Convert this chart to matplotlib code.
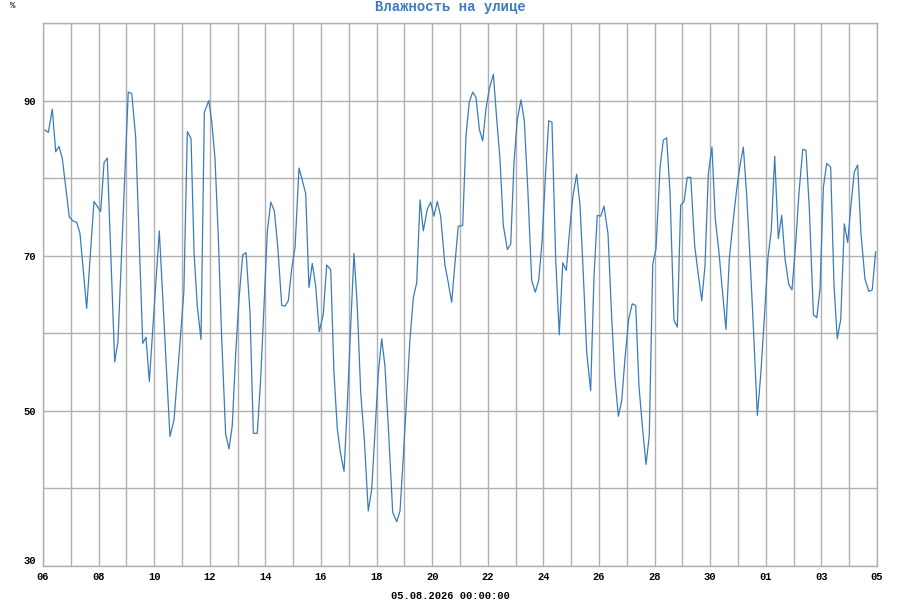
import matplotlib
matplotlib.use('Agg')
import matplotlib.pyplot as plt

# hours since 06.07 00:00 and humidity (%)
hours = [1.7, 4.6, 8.0, 11.0, 13.8, 16.7, 22.7, 25.6, 29.1, 31.9, 37.7, 44.0,
         49.8, 52.7, 55.5, 61.9, 64.7, 73.6, 76.6, 80.0, 86.1, 88.9, 91.8, 100.4,
         109.6, 113.1, 121.6, 124.6, 127.8, 130.4, 133.2, 136.4, 139.3, 143.1,
         145.6, 148.5, 151.3, 154.3, 157.7, 160.6, 163.4, 166.4, 169.2, 172.4,
         175.3, 178.7, 181.6, 185.0, 187.9, 190.8, 193.6, 196.6, 199.7, 202.6,
         206.1, 208.9, 211.8, 214.7, 217.6, 221.0, 223.9, 226.8, 229.6, 232.5,
         235.4, 238.5, 242.0, 244.9, 248.4, 251.2, 254.1, 257.0, 259.9, 262.7,
         265.6, 268.5, 271.3, 274.3, 277.4, 280.8, 283.8, 286.6, 289.5, 292.4,
         295.2, 298.7, 301.9, 305.4, 308.2, 311.1, 314.0, 316.8, 319.7, 322.6,
         325.5, 328.3, 331.8, 334.7, 337.5, 340.4, 343.3, 347.0, 349.9, 352.8,
         355.7, 358.5, 362.3, 365.2, 368.0, 371.0, 373.8, 376.7, 379.6, 382.4,
         385.3, 388.8, 391.7, 394.5, 397.4, 400.9, 403.8, 406.6, 409.5, 412.7,
         415.5, 418.4, 421.9, 425.0, 427.9, 430.8, 433.6, 436.6, 439.4, 442.6,
         445.7, 448.7, 451.8, 454.7, 457.5, 460.7, 463.6, 466.4, 469.4, 472.8,
         475.7, 478.5, 481.5, 484.3, 487.8, 490.6, 493.6, 496.7, 499.6, 502.4,
         505.6, 508.7, 511.7, 514.5, 517.7, 520.6, 523.4, 526.4, 529.2, 532.7,
         535.5, 538.4, 541.3, 544.7, 547.6, 550.5, 553.4, 556.2, 559.2, 562.6,
         565.7, 568.7, 571.5, 574.4, 577.5, 580.4, 583.6, 586.4, 589.6, 592.5,
         595.4, 598.9, 601.7, 604.6, 607.5, 610.4, 613.2, 616.7, 619.6, 622.5,
         625.9, 628.7, 631.7, 634.8, 637.7, 640.6, 643.8, 646.6, 649.5, 652.7,
         655.9, 658.7, 661.6, 665.1, 668.0, 670.8, 673.7, 676.6, 680.0, 682.9,
         685.7, 688.7, 691.8, 694.7, 697.5, 700.4, 703.3, 706.1, 709.6, 713.0,
         715.9, 718.8]
humidity = [86.2, 85.9, 88.9, 83.4, 84.1, 82.5, 75.0, 74.5, 74.3, 72.9, 63.2, 77.0,
            75.7, 82.0, 82.6, 56.3, 58.9, 91.1, 90.9, 85.3, 58.7, 59.5, 53.8, 73.2,
            46.7, 48.8, 65.3, 86.0, 85.1, 70.4, 63.5, 59.2, 88.5, 90.0,
            87.4, 82.5, 72.6, 59.2, 47.0, 45.1, 48.1, 57.5, 64.4, 70.1,
            70.4, 62.7, 47.1, 47.1, 54.1, 63.5, 73.0, 76.9, 75.8, 71.3,
            63.6, 63.5, 64.2, 68.3, 71.1, 81.3, 79.7, 78.0, 65.9, 69.0,
            66.1, 60.2, 62.5, 68.8, 68.2, 54.9, 47.6, 44.4, 42.2, 50.6,
            60.9, 70.3, 63.5, 52.3, 46.3, 37.1, 39.9, 47.2, 54.9, 59.3,
            55.8, 46.3, 36.9, 35.7, 37.1, 44.2, 51.9, 59.2, 64.6, 66.5,
            77.2, 73.2, 76.0, 76.9, 75.1, 77.0, 75.1, 68.8, 66.5, 64.0,
            69.1, 73.8, 73.9, 85.5, 89.8, 91.1, 90.4, 86.3, 84.8, 88.9,
            91.5, 93.4, 87.6, 82.5, 73.9, 70.8, 71.5, 82.0, 87.6, 90.1,
            87.4, 79.0, 66.8, 65.3, 66.8, 71.7, 79.9, 87.4, 87.2, 69.6,
            59.8, 69.1, 68.1, 73.4, 77.7, 80.5, 76.5, 67.8, 57.5, 52.6,
            67.4, 75.2, 75.1, 76.4, 72.8, 63.1, 54.5, 49.3, 51.3, 56.7,
            61.8, 63.8, 63.6, 53.2, 47.6, 43.1, 46.8, 68.9, 70.9, 81.4,
            84.9, 85.2, 78.2, 61.7, 60.8, 76.5, 77.0, 80.1, 80.1, 71.3,
            67.6, 64.2, 68.7, 80.6, 84.0, 74.7, 70.4, 65.7, 60.5, 69.6,
            73.9, 78.6, 81.6, 84.0, 77.8, 69.6, 61.0, 49.4, 54.6, 61.4,
            69.8, 73.2, 82.8, 72.2, 75.2, 69.6, 66.3, 65.6, 70.9, 78.2,
            83.7, 83.6, 76.0, 62.4, 62.0, 65.7, 78.8, 81.9, 81.4, 66.1,
            59.3, 61.8, 74.1, 71.7, 76.5, 80.8, 81.7, 73.0, 67.0, 65.4,
            65.6, 70.5]

day_labels = ['06', '08', '10', '12', '14', '16', '18', '20', '22', '24',
              '26', '28', '30', '01', '03', '05']
y_labels = [30, 50, 70, 90]
title = 'Влажность на улице'
stamp = '05.08.2026 00:00:00'

mono = 'Liberation Mono'
grid_col = '#b0b0b0'

fig = plt.figure(figsize=(9, 6), dpi=100)
ax = fig.add_axes([43 / 900, 1 - 566 / 600, 834 / 900, 543 / 600])

ax.plot(hours, humidity, color='#3a7cbd', lw=0.9)

ax.set_xlim(0, 720)
ax.set_ylim(30, 100)
ax.set_xticks([48 * i for i in range(len(day_labels))])
ax.set_xticklabels(day_labels)
ax.set_xticks([24 + 48 * i for i in range(15)], minor=True)
ax.set_yticks(y_labels)
ax.set_yticks([40, 60, 80, 100], minor=True)

ax.grid(True, which='both', color=grid_col, lw=1.0)
ax.set_axisbelow(True)
ax.tick_params(which='both', length=0)
ax.tick_params(axis='x', pad=4)
ax.tick_params(axis='y', pad=5)
for lab in ax.get_xticklabels() + ax.get_yticklabels():
    lab.set_fontfamily(mono)
    lab.set_fontweight('bold')
    lab.set_fontsize(7.5)
# the bottom label sits just above the frame line
ax.get_yticklabels()[0].set_verticalalignment('bottom')
for sp in ax.spines.values():
    sp.set_color(grid_col)
    sp.set_linewidth(1.0)

fig.text(0.5, 1 - 7 / 600, title, ha='center', va='center',
         family=mono, weight='bold', fontsize=10, color='#3a7cbd')
fig.text(13 / 900, 1 - 6 / 600, '%', ha='center', va='center',
         family=mono, fontsize=6.5)
fig.text(450 / 900, 1 - 596 / 600, stamp, ha='center', va='center',
         family=mono, weight='bold', fontsize=7.5)

fig.savefig('out.png', dpi=100)
